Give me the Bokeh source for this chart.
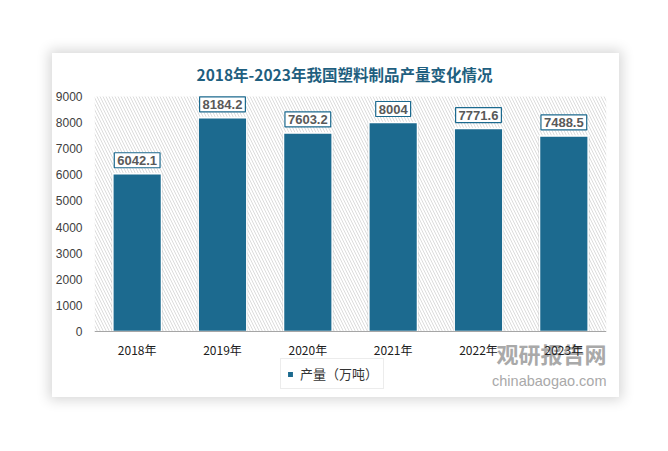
from bokeh.plotting import figure
from bokeh.layouts import column, row
from bokeh.models import (ColumnDataSource, Label, BoxAnnotation, Legend,
                          LegendItem, FixedTicker, Spacer)
from bokeh.embed import file_html
from bokeh.resources import INLINE

years = ["2018年", "2019年", "2020年", "2021年", "2022年", "2023年"]
output = [6042.1, 8184.2, 7603.2, 8004, 7771.6, 7488.5]
label_texts = ["6042.1", "8184.2", "7603.2", "8004", "7771.6", "7488.5"]
y_ticks = [0, 1000, 2000, 3000, 4000, 5000, 6000, 7000, 8000, 9000]
title_text = "2018年-2023年我国塑料制品产量变化情况"
series_name = "产量（万吨）"
watermark_cn = "观研报告网"
watermark_en = "chinabaogao.com"

BAR = "#1c6a8f"
TEAL = "#1f5f7f"

# layout (pixels): card 567x344, plot area 513x235 for 0..9000
CARD_W, CARD_H = 567, 344
PLOT_H_PX = 235
TOP_EXTRA_PX = 10      # room above 9000 for the top value box
BOTTOM_EXTRA_PX = 66   # room below 0 for axis labels, legend, watermark
Y_MAX = 9000
px = Y_MAX / PLOT_H_PX
y_start = -BOTTOM_EXTRA_PX * px
y_end = Y_MAX + TOP_EXTRA_PX * px

p = figure(x_range=years, y_range=(y_start, y_end), width=CARD_W, height=CARD_H,
           output_backend="svg", toolbar_location=None,
           min_border_left=41, min_border_right=13, min_border_top=33,
           min_border_bottom=0)
p.border_fill_color = "white"
p.background_fill_color = None
p.outline_line_color = None
p.grid.visible = False
p.styles = {"box-shadow": "0 0 12px 3px rgba(0,0,0,0.16)"}

# hatched plot area (0..9000)
p.add_layout(BoxAnnotation(bottom=0, top=Y_MAX, fill_color="white", fill_alpha=1,
                           line_color=None, hatch_pattern="\\", hatch_color="#dcdcdc",
                           hatch_scale=6, hatch_weight=1, level="underlay"))

# watermark (under the axis labels)
p.add_layout(Label(x=512, y=45, x_units="screen", y_units="screen", text=watermark_cn,
                   text_align="right", text_baseline="middle",
                   text_font="Noto Sans CJK SC", text_font_style="bold",
                   text_font_size="22px", text_color="#a9a9a9", level="underlay"))
p.add_layout(Label(x=512, y=17, x_units="screen", y_units="screen", text=watermark_en,
                   text_align="right", text_baseline="middle",
                   text_font="Liberation Sans", text_font_size="14.5px",
                   text_color="#a9a9a9", level="underlay"))

src = ColumnDataSource(dict(x=years, y=output, t=label_texts))
# soft bar shadow
p.vbar(x="x", top="y", bottom=0, width=0.6, source=src, fill_color="#000000",
       fill_alpha=0.12, line_color=None)
bars = p.vbar(x="x", top="y", bottom=0, width=0.57, source=src, fill_color=BAR,
              line_color="white", line_width=1.5)

# value labels (factor i sits at synthetic coordinate i + 0.5 on the FactorRange)
for i, (v, t) in enumerate(zip(output, label_texts)):
    p.add_layout(Label(x=i + 0.5, y=v, text=t, text_align="center",
                       text_baseline="bottom", y_offset=6,
                       text_font="Liberation Sans", text_font_style="bold",
                       text_font_size="13px", text_color="#595959",
                       background_fill_color="white", border_line_color=BAR,
                       border_line_width=1.2, padding=3))

p.yaxis.ticker = FixedTicker(ticks=y_ticks)
p.yaxis.axis_line_color = None
p.yaxis.major_tick_line_color = None
p.yaxis.minor_tick_line_color = None
p.yaxis.major_tick_out = 0
p.yaxis.major_tick_in = 0
p.yaxis.minor_tick_out = 0
p.yaxis.major_label_text_font = "Liberation Sans"
p.yaxis.major_label_text_font_size = "12px"
p.yaxis.major_label_text_color = "#404040"
p.yaxis.major_label_standoff = 12

p.xaxis.fixed_location = 0
p.xaxis.axis_line_color = "#a6a6a6"
p.xaxis.axis_line_width = 1.2
p.xaxis.major_tick_line_color = None
p.xaxis.minor_tick_line_color = None
p.xaxis.major_tick_out = 0
p.xaxis.major_tick_in = 0
p.xaxis.major_label_text_font = "Noto Sans CJK SC"
p.xaxis.major_label_text_font_size = "12px"
p.xaxis.major_label_text_color = "#202020"
p.xaxis.major_label_standoff = 9

legend = Legend(items=[LegendItem(label=series_name, renderers=[bars])],
                location=(186, 8), orientation="horizontal",
                border_line_color="#d9d9d9", border_line_width=1,
                background_fill_color="white", background_fill_alpha=1,
                label_text_font="Noto Sans CJK SC", label_text_font_size="13px",
                label_text_color="#333333", glyph_width=8, glyph_height=8,
                label_height=13, padding=5, margin=0, label_standoff=6)
p.add_layout(legend, "center")

p.title.text = title_text
p.title.align = "left"
p.title.text_font = "Noto Sans CJK SC"
p.title.text_font_style = "bold"
p.title.text_font_size = "15.5px"
p.title.text_color = TEAL
p.title.offset = 102
p.title.standoff = 3

layout = column(Spacer(height=53), row(Spacer(width=52), p))
open("out.html", "w").write(file_html(layout, INLINE))
